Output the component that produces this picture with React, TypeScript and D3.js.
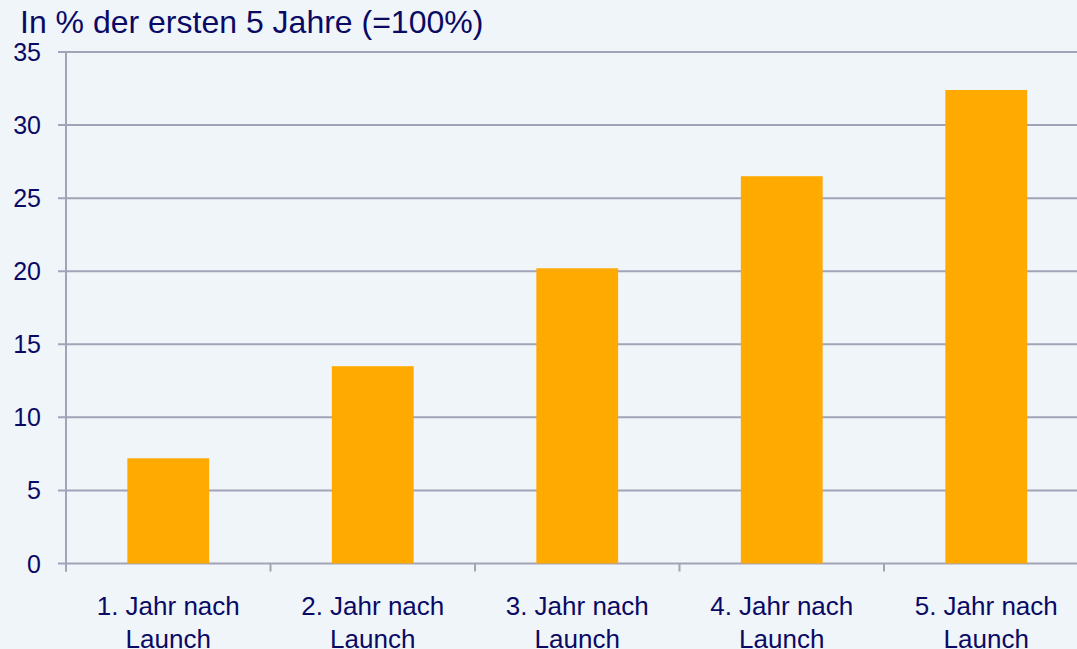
import React, { useEffect, useRef } from 'react';
import * as d3 from 'd3';

const categories = ['1. Jahr nach Launch', '2. Jahr nach Launch', '3. Jahr nach Launch', '4. Jahr nach Launch', '5. Jahr nach Launch'];
const values = [7.2, 13.5, 20.2, 26.5, 32.4];
const yTicks = [0, 5, 10, 15, 20, 25, 30, 35];
const title = 'In % der ersten 5 Jahre (=100%)';

const W = 1077;
const H = 649;

const App: React.FC = () => {
  const svgRef = useRef<SVGSVGElement>(null);

  useEffect(() => {
    const svg = d3.select(svgRef.current);
    svg.selectAll('*').remove();

    const textColor = '#0a0a64';
    const gridColor = '#a3a3b7';
    const font = '"Liberation Sans", Arial, sans-serif';

    const left = 66;
    const right = 1088.5;
    const top = 52;
    const bottom = 563.5;

    svg.append('rect').attr('width', W).attr('height', H).attr('fill', '#f0f5fa');

    const x = d3.scaleBand<string>()
      .domain(categories)
      .range([left, right])
      .paddingInner(0.6)
      .paddingOuter(0.3);

    const y = d3.scaleLinear().domain([0, 35]).range([bottom, top]);

    // grid lines
    svg.append('g')
      .selectAll('line')
      .data(yTicks)
      .join('line')
      .attr('x1', left - 8)
      .attr('x2', W)
      .attr('y1', d => y(d))
      .attr('y2', d => y(d))
      .attr('stroke', gridColor)
      .attr('stroke-width', 2);

    // y axis line
    svg.append('line')
      .attr('x1', left).attr('x2', left)
      .attr('y1', top).attr('y2', bottom + 8)
      .attr('stroke', gridColor).attr('stroke-width', 2);

    // category tick marks
    const step = x.step();
    svg.append('g')
      .selectAll('line')
      .data(d3.range(categories.length + 1))
      .join('line')
      .attr('x1', i => left + i * step)
      .attr('x2', i => left + i * step)
      .attr('y1', bottom)
      .attr('y2', bottom + 8)
      .attr('stroke', gridColor)
      .attr('stroke-width', 2);

    // bars
    svg.append('g')
      .selectAll('rect')
      .data(values)
      .join('rect')
      .attr('x', (d, i) => x(categories[i])!)
      .attr('width', x.bandwidth())
      .attr('y', d => y(d))
      .attr('height', d => y(0) - y(d))
      .attr('fill', '#ffaa00');

    // y tick labels
    svg.append('g')
      .selectAll('text')
      .data(yTicks)
      .join('text')
      .attr('x', 41)
      .attr('y', d => y(d))
      .attr('dy', '0.36em')
      .attr('text-anchor', 'end')
      .attr('fill', textColor)
      .style('font-family', font)
      .style('font-size', '25px')
      .text(d => d);

    // category labels (two lines)
    const labels = svg.append('g')
      .selectAll('text')
      .data(categories)
      .join('text')
      .attr('x', d => x(d)! + x.bandwidth() / 2)
      .attr('y', 615)
      .attr('text-anchor', 'middle')
      .attr('fill', textColor)
      .style('font-family', font)
      .style('font-size', '26px');
    labels.append('tspan')
      .attr('x', d => x(d)! + x.bandwidth() / 2)
      .text(d => d.replace(' Launch', ''));
    labels.append('tspan')
      .attr('x', d => x(d)! + x.bandwidth() / 2)
      .attr('dy', 33)
      .text('Launch');

    svg.append('text')
      .attr('x', 20)
      .attr('y', 33)
      .attr('fill', textColor)
      .style('font-family', font)
      .style('font-size', '32px')
      .text(title);
  }, []);

  return (
    <div style={{ position: 'fixed', left: 0, top: 0 }}>
      <svg ref={svgRef} width={W} height={H} style={{ display: 'block' }} />
    </div>
  );
};

export default App;
